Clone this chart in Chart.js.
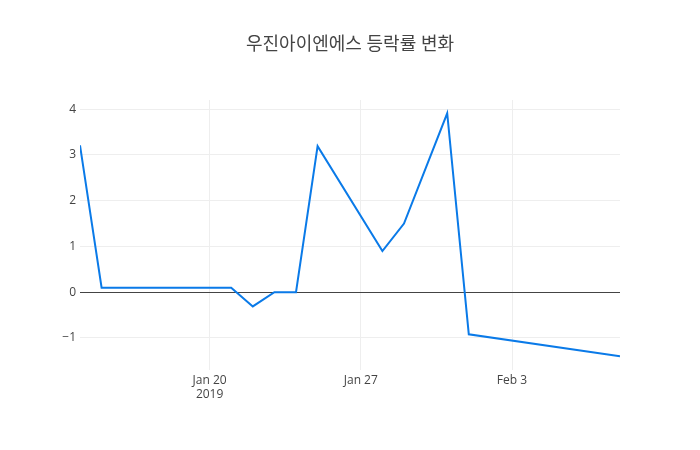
<!DOCTYPE html>
<html>
<head>
	<title>우진아이엔에스 등락률 변화</title>
	<meta charset="utf-8">
	<script src="https://cdn.jsdelivr.net/npm/chart.js@4.4.1/dist/chart.umd.min.js"></script>
	<style>
		body { margin: 0; background: #fff; }
		#wrap { width: 700px; height: 450px; }
	</style>
</head>
<body>
	<div id="wrap">
		<canvas id="rate-chart" width="700" height="450"></canvas>
	</div>
	<script>
		// trading days and change rate (%)
		var dates = ['2019-01-14', '2019-01-15', '2019-01-16', '2019-01-17', '2019-01-18',
			'2019-01-21', '2019-01-22', '2019-01-23', '2019-01-24', '2019-01-25',
			'2019-01-28', '2019-01-29', '2019-01-31', '2019-02-01', '2019-02-08'];
		var rates = [3.21, 0.1, 0.1, 0.1, 0.1, 0.1, -0.31, 0, 0, 3.19, 0.9, 1.5, 3.91, -0.92, -1.4];
		var xTickDates = ['2019-01-20', '2019-01-27', '2019-02-03'];
		var yTicks = [-1, 0, 1, 2, 3, 4];
		var months = ['Jan', 'Feb', 'Mar', 'Apr', 'May', 'Jun', 'Jul', 'Aug', 'Sep', 'Oct', 'Nov', 'Dec'];
		var titleText = '우진아이엔에스 등락률 변화';

		var DAY = 86400000;
		var start = Date.parse(dates[0]);
		function dayOf(d) { return (Date.parse(d) - start) / DAY; }

		var points = dates.map(function (d, i) { return { x: dayOf(d), y: rates[i] }; });
		var xTicks = xTickDates.map(dayOf);
		var font = "'Open Sans', 'Noto Sans CJK KR', sans-serif";

		// title centred on the whole page, like plotly does
		var pageTitle = {
			id: 'pageTitle',
			afterDraw: function (chart) {
				var c = chart.ctx;
				c.save();
				c.fillStyle = '#444';
				c.font = '18px ' + font;
				c.textAlign = 'center';
				c.textBaseline = 'middle';
				c.fillText(titleText, chart.width / 2, 45);
				c.restore();
			}
		};

		var ctx = document.getElementById('rate-chart').getContext('2d');
		var chart = new Chart(ctx, {
			type: 'line',
			data: {
				datasets: [{
					data: points,
					borderColor: 'rgb(10, 122, 232)',
					borderWidth: 2,
					pointRadius: 0,
					tension: 0,
					fill: false
				}]
			},
			options: {
				responsive: false,
				animation: false,
				layout: { padding: { left: 0, right: 80, top: 100, bottom: 0 } },
				plugins: {
					legend: { display: false },
					tooltip: { enabled: false },
					title: { display: false }
				},
				scales: {
					x: {
						type: 'linear',
						min: 0,
						max: dayOf(dates[dates.length - 1]),
						afterBuildTicks: function (scale) {
							scale.ticks = xTicks.map(function (v) { return { value: v }; });
						},
						afterFit: function (scale) { scale.height = 80; },
						border: { display: false },
						grid: { color: '#eee', lineWidth: 1, drawTicks: false },
						ticks: {
							color: '#444',
							font: { family: font, size: 12 },
							padding: 3,
							maxRotation: 0,
							autoSkip: false,
							callback: function (v, i) {
								var d = new Date(start + v * DAY);
								var label = months[d.getUTCMonth()] + ' ' + d.getUTCDate();
								return i === 0 ? [label, String(d.getUTCFullYear())] : label;
							}
						}
					},
					y: {
						min: -1.7,
						max: 4.2,
						afterBuildTicks: function (scale) {
							scale.ticks = yTicks.map(function (v) { return { value: v }; });
						},
						afterFit: function (scale) { scale.width = 80; },
						border: { display: false },
						grid: {
							drawTicks: false,
							color: function (c) { return c.tick && c.tick.value === 0 ? '#444' : '#eee'; },
							lineWidth: 1
						},
						ticks: {
							color: '#444',
							font: { family: font, size: 12 },
							padding: 4,
							callback: function (v) { return v < 0 ? '\u2212' + Math.abs(v) : String(v); }
						}
					}
				}
			},
			plugins: [pageTitle]
		});
	</script>
</body>
</html>
